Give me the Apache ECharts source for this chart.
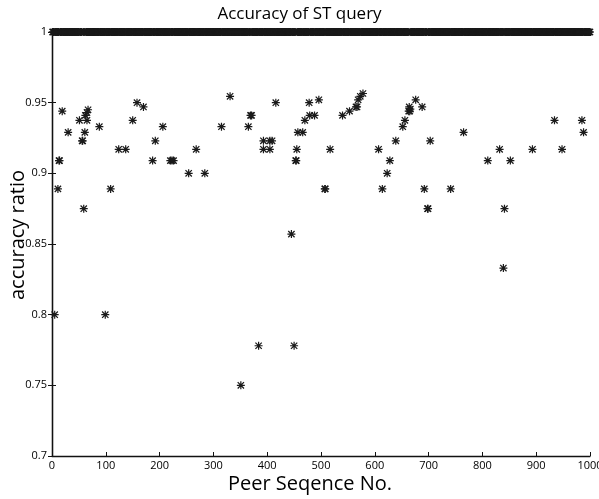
<!DOCTYPE html>
<html><head><meta charset="utf-8">
<script src="https://cdn.jsdelivr.net/npm/echarts@6/dist/echarts.min.js"></script>
<style>html,body{margin:0;padding:0;background:#fff}#c{width:599px;height:499px}</style>
</head><body><div id="c"></div>
<script>
// Peers whose accuracy ratio is below 1 (peer no., ratio)
const lowPeers = [5,11,13,14,19,30,51,56,57,59,61,62,65,67,65,88,99,109,124,137,150,158,170,187,192,206,220,223,226,254,268,284,315,331,351,365,369,371,384,393,393,405,405,409,416,445,450,453,454,455,457,466,470,478,479,488,496,507,508,517,540,553,565,567,569,573,578,607,614,623,628,639,652,656,663,664,665,666,676,688,692,698,699,703,741,765,810,832,839,841,852,893,934,948,985,988];
const lowRatios = [0.8,0.889,0.909,0.909,0.944,0.929,0.9375,0.923,0.923,0.875,0.929,0.941,0.943,0.945,0.9375,0.933,0.8,0.889,0.917,0.917,0.9375,0.95,0.947,0.909,0.923,0.933,0.909,0.909,0.909,0.9,0.917,0.9,0.933,0.9545,0.75,0.933,0.941,0.941,0.778,0.923,0.917,0.923,0.917,0.923,0.95,0.857,0.778,0.909,0.909,0.917,0.929,0.929,0.9375,0.95,0.941,0.941,0.952,0.889,0.889,0.917,0.941,0.944,0.947,0.947,0.952,0.9545,0.9565,0.917,0.889,0.9,0.909,0.923,0.933,0.9375,0.944,0.947,0.944,0.9455,0.952,0.947,0.889,0.875,0.875,0.923,0.889,0.929,0.909,0.917,0.833,0.875,0.909,0.917,0.9375,0.917,0.9375,0.929];
const peerCount = 1000;      // peers numbered 1..1000
const perfectRatio = 1;      // all other peers answered every ST query correctly
const xTicks = [0,100,200,300,400,500,600,700,800,900,1000];
const yTicks = [0.7,0.75,0.8,0.85,0.9,0.95,1];

const lowSet = new Set(lowPeers);
const data = [];
for (let p = 1; p <= peerCount; p++) if (!lowSet.has(p)) data.push([p, perfectRatio]);
for (let i = 0; i < lowPeers.length; i++) data.push([lowPeers[i], lowRatios[i]]);

const star = 'path://M4.25 0L5.75 0L5.75 10L4.25 10Z M0 4.25L10 4.25L10 5.75L0 5.75Z M0.5 1.6L1.6 0.5L9.5 8.4L8.4 9.5Z M8.4 0.5L9.5 1.6L1.6 9.5L0.5 8.4Z';
const FONT = '"Open Sans", sans-serif';
const axisLine = {show:true, lineStyle:{color:'#111', width:1.3}};
const tick = {show:true, inside:true, length:4, lineStyle:{color:'#111', width:1}};
const chart = echarts.init(document.getElementById('c'), null, {renderer:'canvas'});
chart.setOption({
  animation:false,
  backgroundColor:'#fff',
  title:{text:'Accuracy of ST query', left:'center', top:1, textStyle:{fontFamily:FONT, fontSize:17, fontWeight:'normal', color:'#000'}},
  grid:{left:52, right:9, top:32, bottom:43, containLabel:false, outerBoundsMode:'none'},
  xAxis:[{type:'value', min:0, max:1000, interval:100, position:'bottom',
    axisLine, axisTick:tick, splitLine:{show:false},
    axisLabel:{fontFamily:FONT, fontSize:11, color:'#000', margin:4, showMaxLabel:true,
      formatter:v=>xTicks.includes(v)?String(v):''},
    name:'Peer Seqence No.', nameLocation:'middle', nameGap:18, nameMoveOverlap:false,
    nameTextStyle:{fontFamily:FONT, fontSize:20, color:'#000', padding:[0,22,0,0]}},
    {type:'value', min:0, max:1000, interval:100, position:'top', axisLine, axisTick:tick, axisLabel:{show:false}, splitLine:{show:false}}],
  yAxis:[{type:'value', min:0.7, max:1, interval:0.05, position:'left',
    axisLine, axisTick:tick, splitLine:{show:false},
    axisLabel:{fontFamily:FONT, fontSize:11, color:'#000', margin:5,
      formatter:v=>{const t=yTicks.find(k=>Math.abs(k-v)<1e-6); return t===undefined?'':String(t);}},
    name:'accuracy ratio', nameLocation:'middle', nameGap:24, nameMoveOverlap:false,
    nameTextStyle:{fontFamily:FONT, fontSize:20, color:'#000', padding:[0,0,0,18]}},
    {type:'value', min:0.7, max:1, interval:0.05, position:'right', axisLine, axisTick:tick, axisLabel:{show:false}, splitLine:{show:false}}],
  series:[{type:'scatter', data, symbol:star, symbolSize:8,
    itemStyle:{color:'#1a1a1a', opacity:1}, clip:false}]
});
</script></body></html>
